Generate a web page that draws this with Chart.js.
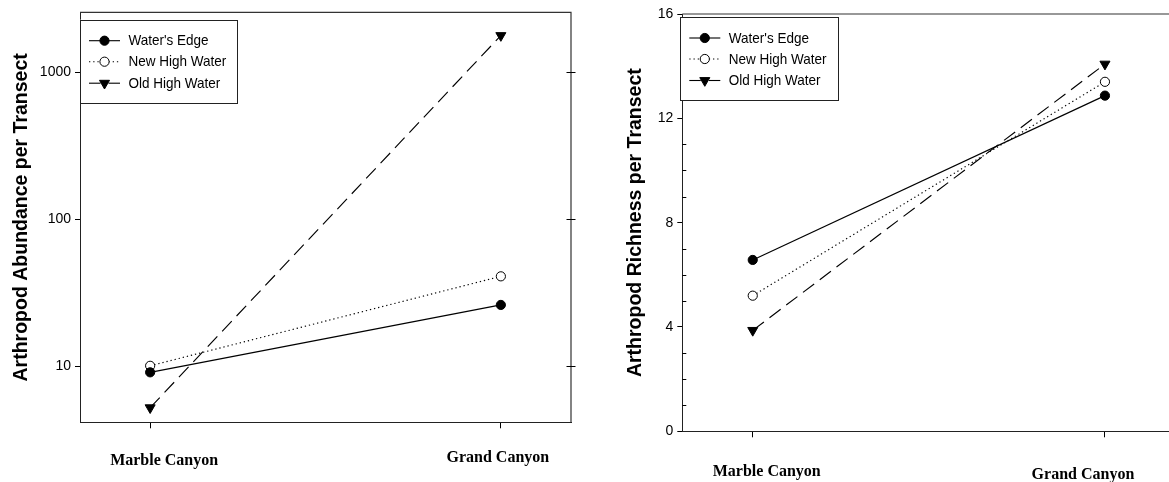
<!DOCTYPE html>
<html>
<head>
<meta charset="utf-8">
<title>Arthropod abundance and richness</title>
<script src="https://cdn.jsdelivr.net/npm/chart.js@4.4.1/dist/chart.umd.min.js"></script>
<style>
  html, body { margin: 0; padding: 0; background: #fff; overflow: hidden; width: 1169px; height: 482px; }
  .panel { position: absolute; top: 0; }
  #panelA { left: 0; width: 590px; height: 482px; }
  #panelB { left: 590px; width: 600px; height: 482px; }
</style>
</head>
<body>
<div class="panel" id="panelA"><canvas id="abundance" width="590" height="482"></canvas></div>
<div class="panel" id="panelB"><canvas id="richness" width="600" height="482"></canvas></div>
<script>
// Sampling sites along the river (x axis)
const sites = ['Marble Canyon', 'Grand Canyon'];
const seriesNames = ["Water's Edge", 'New High Water', 'Old High Water'];

// Arthropod abundance per transect (log scale)
const abundanceWatersEdge = [9.12, 26.2];
const abundanceNewHigh = [10.1, 41.0];
const abundanceOldHigh = [5.24, 1780];

// Arthropod richness per transect
const richnessWatersEdge = [6.57, 12.87];
const richnessNewHigh = [5.20, 13.40];
const richnessOldHigh = [3.87, 14.08];

// Axis ticks
const abundanceTicks = [10, 100, 1000];
const richnessTicks = [0, 4, 8, 12, 16];
const richnessMinorTicks = [1, 2, 3, 5, 6, 7, 9, 10, 11, 13, 14, 15];

const SANS = "'Liberation Sans', Arial, sans-serif";
const SERIF = "'Liberation Serif', 'Times New Roman', serif";

// Line and marker style of each zone
const zoneStyles = [
  { pointStyle: 'circle', radius: 4.6, rotation: 0, fill: '#000', dash: [] },
  { pointStyle: 'circle', radius: 4.6, rotation: 0, fill: '#fff', dash: [1.3, 2.9] },
  { pointStyle: 'triangle', radius: 5.8, rotation: 180, fill: '#000', dash: [14, 7] }
];

function buildDatasets(valueLists) {
  return valueLists.map((values, k) => {
    const st = zoneStyles[k];
    return {
      label: seriesNames[k],
      data: values.map((v, i) => ({ x: i, y: v })),
      borderColor: '#000',
      borderWidth: 1.15,
      borderDash: st.dash,
      pointStyle: st.pointStyle,
      pointRadius: st.radius,
      pointRotation: st.rotation,
      pointBackgroundColor: st.fill,
      pointBorderColor: '#000',
      pointBorderWidth: 1,
      tension: 0,
      fill: false
    };
  });
}

function drawMarker(ctx, st, x, y) {
  ctx.save();
  ctx.setLineDash([]);
  ctx.beginPath();
  if (st.pointStyle === 'triangle') {
    let a = st.rotation * Math.PI / 180;
    for (let k = 0; k < 3; k++) {
      const px = x + Math.sin(a) * st.radius;
      const py = y - Math.cos(a) * st.radius;
      if (k === 0) ctx.moveTo(px, py); else ctx.lineTo(px, py);
      a += 2 * Math.PI / 3;
    }
    ctx.closePath();
  } else {
    ctx.arc(x, y, st.radius, 0, Math.PI * 2);
  }
  ctx.fillStyle = st.fill;
  ctx.fill();
  ctx.lineWidth = 1;
  ctx.strokeStyle = '#000';
  ctx.stroke();
  ctx.restore();
}

// Frame, extra ticks, site labels and the boxed key
const panelDecor = {
  id: 'panelDecor',
  afterDraw(chart, args, opts) {
    const { ctx, chartArea: ca, scales } = chart;
    const xs = scales.x, ys = scales.y;
    ctx.save();

    // plot frame (top and right)
    ctx.strokeStyle = '#333';
    ctx.lineWidth = 1.2;
    ctx.beginPath();
    ctx.moveTo(ca.left, ca.top);
    ctx.lineTo(ca.right, ca.top);
    ctx.lineTo(ca.right, ca.bottom);
    ctx.stroke();

    // ticks crossing the right side
    ctx.lineWidth = 1;
    ctx.strokeStyle = '#000';
    (opts.rightTicks || []).forEach(v => {
      const y = Math.round(ys.getPixelForValue(v)) + 0.5;
      ctx.beginPath();
      ctx.moveTo(ca.right - 4.5, y);
      ctx.lineTo(ca.right + 4.5, y);
      ctx.stroke();
    });

    // small inward ticks on the left axis
    (opts.minorTicks || []).forEach(v => {
      const y = Math.round(ys.getPixelForValue(v)) + 0.5;
      ctx.beginPath();
      ctx.moveTo(ca.left, y);
      ctx.lineTo(ca.left + 4, y);
      ctx.stroke();
    });

    // site names under the x axis
    ctx.fillStyle = '#000';
    ctx.font = 'bold 16px ' + SERIF;
    ctx.textAlign = 'center';
    ctx.textBaseline = 'middle';
    sites.forEach((name, i) => {
      const off = opts.labelOffsets[i];
      ctx.fillText(name, xs.getPixelForValue(i) + off[0], ca.bottom + off[1]);
    });

    // key box
    const lb = opts.legendBox;
    const bx = ca.left + lb.dx, by = ca.top + lb.dy;
    ctx.fillStyle = '#fff';
    ctx.fillRect(bx, by, lb.w, lb.h);
    ctx.strokeStyle = '#222';
    ctx.lineWidth = 1;
    ctx.strokeRect(Math.round(bx) + 0.5, Math.round(by) + 0.5, lb.w, lb.h);

    const rowY = [21, 42, 63.5];
    ctx.textAlign = 'left';
    chart.data.datasets.forEach((ds, k) => {
      const st = zoneStyles[k];
      const y = by + rowY[k];
      const x0 = bx + 9, x1 = bx + 40, xm = bx + 24.5;
      ctx.strokeStyle = '#000';
      ctx.lineWidth = 1.1;
      ctx.setLineDash(st.dash);
      ctx.beginPath();
      ctx.moveTo(x0, y); ctx.lineTo(xm - 4, y);
      ctx.stroke();
      ctx.beginPath();
      ctx.moveTo(xm + 4, y); ctx.lineTo(x1, y);
      ctx.stroke();
      ctx.setLineDash([]);
      drawMarker(ctx, st, xm, y);
      // narrow key lettering
      ctx.save();
      ctx.translate(bx + 48.5, y + 0.5);
      ctx.scale(0.9, 1);
      ctx.font = '15px ' + SANS;
      ctx.fillStyle = '#000';
      ctx.fillText(ds.label, 0, 0);
      ctx.restore();
    });

    ctx.restore();
  }
};

function tickFont() { return { family: SANS, size: 14 }; }
function titleFont() { return { family: SANS, size: 19.5, weight: 'bold' }; }

const siteScale = (height) => ({
  type: 'linear',
  min: -0.2,
  max: 1.2,
  afterBuildTicks: s => { s.ticks = sites.map((_, i) => ({ value: i })); },
  afterFit: s => { s.height = height; },
  ticks: { display: false },
  grid: { drawOnChartArea: false, drawTicks: true, tickLength: 6, color: '#000', lineWidth: 1 },
  border: { color: '#222', width: 1 }
});

new Chart(document.getElementById('abundance'), {
  type: 'line',
  data: { datasets: buildDatasets([abundanceWatersEdge, abundanceNewHigh, abundanceOldHigh]) },
  options: {
    responsive: false,
    animation: false,
    layout: { padding: { left: 0, top: 6.7, right: 19, bottom: 0 } },
    plugins: {
      legend: { display: false },
      tooltip: { enabled: false },
      panelDecor: {
        rightTicks: abundanceTicks,
        labelOffsets: [[14, 38.5], [-3, 36]],
        legendBox: { dx: 0, dy: 7.3, w: 157, h: 83 }
      }
    },
    scales: {
      x: siteScale(59.7),
      y: {
        type: 'logarithmic',
        min: 4.17,
        max: 2557,
        afterBuildTicks: s => { s.ticks = abundanceTicks.map(v => ({ value: v })); },
        afterFit: s => { s.width = 80; },
        ticks: { callback: v => String(v), font: tickFont(), color: '#000', padding: 4 },
        grid: { drawOnChartArea: false, drawTicks: true, tickLength: 5, color: '#000', lineWidth: 1 },
        border: { color: '#222', width: 1 },
        title: { display: true, text: 'Arthropod Abundance per Transect', font: titleFont(), color: '#000', padding: { top: 10, bottom: 0 } }
      }
    }
  },
  plugins: [panelDecor]
});

new Chart(document.getElementById('richness'), {
  type: 'line',
  data: { datasets: buildDatasets([richnessWatersEdge, richnessNewHigh, richnessOldHigh]) },
  options: {
    responsive: false,
    animation: false,
    layout: { padding: { left: 0, top: 14, right: 14.6, bottom: 0 } },
    plugins: {
      legend: { display: false },
      tooltip: { enabled: false },
      panelDecor: {
        rightTicks: [],
        minorTicks: richnessMinorTicks,
        labelOffsets: [[14, 40.5], [-22, 44]],
        legendBox: { dx: -2, dy: 3, w: 158, h: 83 }
      }
    },
    scales: {
      x: siteScale(50.7),
      y: {
        type: 'linear',
        min: 0,
        max: 16,
        afterBuildTicks: s => { s.ticks = richnessTicks.map(v => ({ value: v })); },
        afterFit: s => { s.width = 92.3; },
        ticks: { callback: v => String(v), font: tickFont(), color: '#000', padding: 4 },
        grid: { drawOnChartArea: false, drawTicks: true, tickLength: 5, color: '#000', lineWidth: 1 },
        border: { color: '#222', width: 1 },
        title: { display: true, text: 'Arthropod Richness per Transect', font: titleFont(), color: '#000', padding: { top: 34, bottom: 0 } }
      }
    }
  },
  plugins: [panelDecor]
});
</script>
</body>
</html>
